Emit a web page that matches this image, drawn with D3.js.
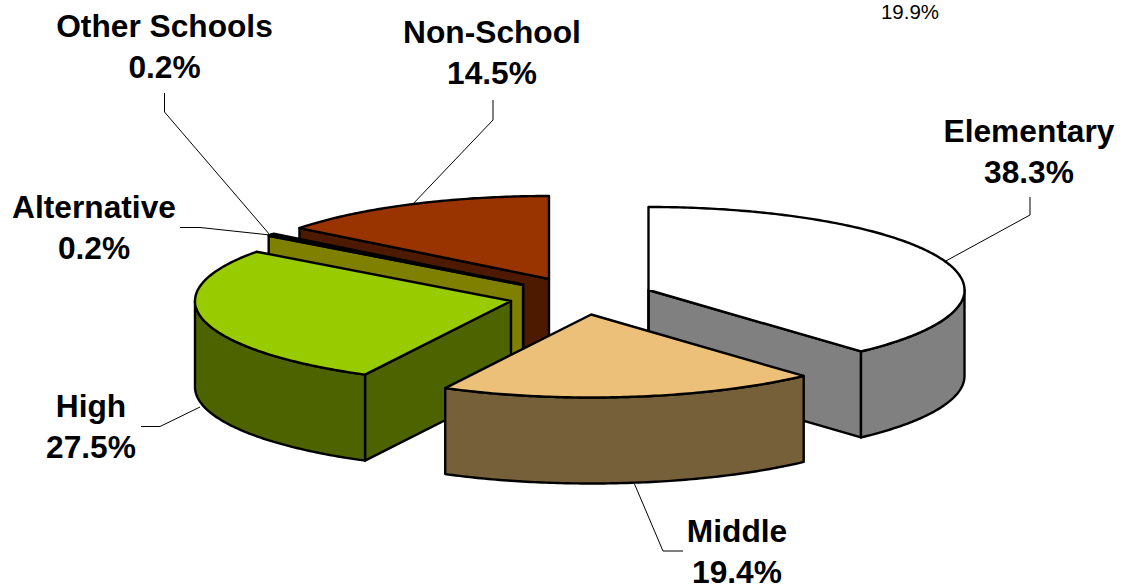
<!DOCTYPE html>
<html><head><meta charset="utf-8">
<script src="https://cdn.jsdelivr.net/npm/d3@7/dist/d3.min.js"></script>
<style>html,body{margin:0;padding:0;background:#fff}svg{display:block}
text{font-family:"Liberation Sans",Arial,sans-serif;fill:#000}</style></head>
<body><svg id="c" width="1125" height="587"></svg>
<script>
// data
const categories = ["Elementary","Middle","High","Alternative","Other Schools","Non-School"];
const shares = [38.3,19.4,27.5,0.2,0.2,14.5];
const strayLabel = "19.9%";
// style
const topColors = ["#FFFFFF","#ECC078","#99CC00","#808000","#666600","#993300"];
const sideColors = ["#808080","#76603A","#4D6300","#808000","#000000","#4D1A00"];
// layout
const rx=316, ry=83, depth=86;
const centers = [[648.5,290],[591.2,314.5],[511,301],[523,285],[523.2,284.6],[549,279]];
const labelPos = [[1029,142],[737,542],[91,417],[94,218],[164.5,36.5],[492,43]];
const leaders = [
 [[1030,197],[1030,215],[944,262]],
 [[634.5,484],[663,551],[683,551]],
 [[141,426.5],[160,426.5],[200,407]],
 [[180,227.5],[200,227.5],[270,235]],
 [[164.5,93],[164.5,112],[270,235]],
 [[493,100],[493,120],[411,206]]
];
const svg=d3.select("#c");
const arcs=d3.pie().sort(null).value(d=>d)(shares);
const line=d3.line();
const X=d3.scaleLinear().domain([-1,1]).range([-rx,rx]);
const Y=d3.scaleLinear().domain([-1,1]).range([-ry,ry]);
const pt=(c,a,dz=0)=>[c[0]+X(Math.sin(a)),c[1]+Y(-Math.cos(a))+dz];
const rim=(c,a0,a1,dz=0)=>{const n=Math.max(2,Math.ceil(Math.abs(a1-a0)*80));
  return d3.range(n+1).map(i=>pt(c,a0+(a1-a0)*i/n,dz));};
const order=[5,4,3,0,2,1];
const sw=2.4;
order.forEach(i=>{
  const c=centers[i],a=arcs[i].startAngle,b=arcs[i].endAngle;
  const g=svg.append("g").attr("stroke","#000").attr("stroke-width",sw).attr("stroke-linejoin","round");
  const side=sideColors[i];
  const apexB=[c[0],c[1]+depth];
  if(Math.sin(a)<-1e-6){
    g.append("path").attr("fill",side).attr("d",line([c,pt(c,a),pt(c,a,depth),apexB])+"Z");
  }
  if(Math.sin(b)>1e-6){
    g.append("path").attr("fill",side).attr("d",line([c,pt(c,b),pt(c,b,depth),apexB])+"Z");
  }
  const r0=Math.max(a,Math.PI/2), r1=Math.min(b,1.5*Math.PI);
  if(r1>r0){
    const up=rim(c,r0,r1), dn=rim(c,r1,r0,depth);
    g.append("path").attr("fill",side).attr("d",line(up.concat(dn))+"Z");
  }
  if(Math.abs(a)<1e-6){
    g.append("path").attr("fill","none").attr("d",line([c,apexB]));
  }
  g.append("path").attr("fill",topColors[i]).attr("d",line([c].concat(rim(c,a,b)))+"Z");
});
svg.append("g").selectAll("path").data(leaders).join("path")
  .attr("d",d=>line(d)).attr("fill","none").attr("stroke","#000").attr("stroke-width",1);
const fmt=d3.format(".1f");
const t=svg.append("g").attr("font-weight","bold").attr("font-size",31.7).attr("text-anchor","middle");
categories.forEach((n,i)=>{
  t.append("text").attr("x",labelPos[i][0]).attr("y",labelPos[i][1]).text(n);
  t.append("text").attr("x",labelPos[i][0]).attr("y",labelPos[i][1]+41).text(fmt(shares[i])+"%");
});
svg.append("text").attr("x",910).attr("y",19).attr("text-anchor","middle").attr("font-size",20.5).text(strayLabel);
</script></body></html>
